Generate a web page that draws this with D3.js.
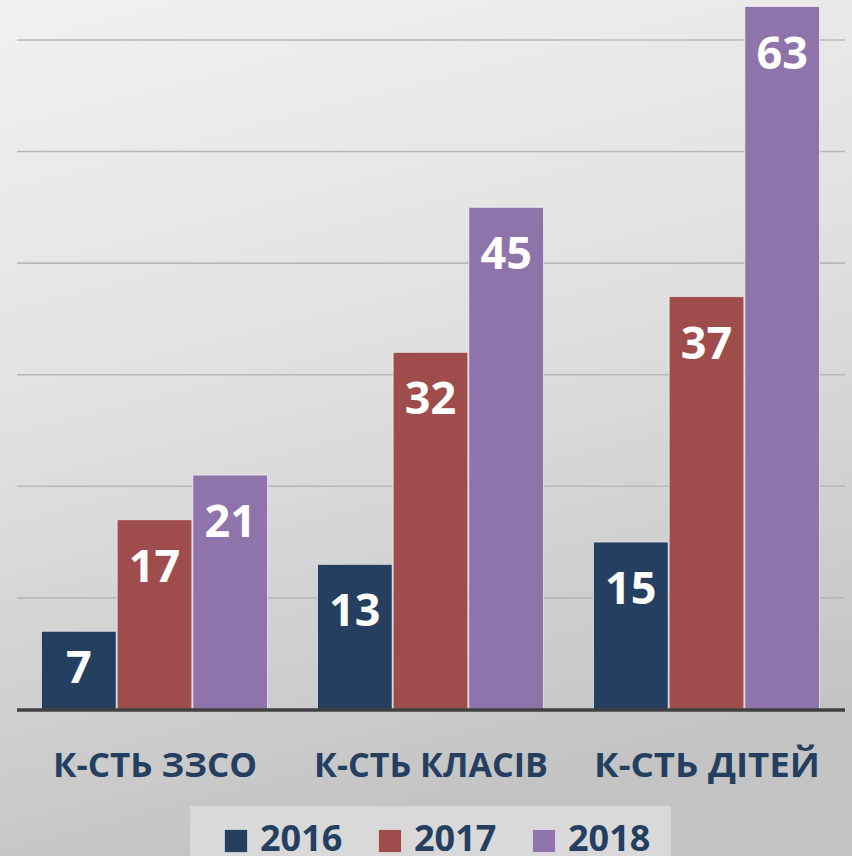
<!DOCTYPE html>
<html>
<head>
<meta charset="utf-8">
<script src="https://cdn.jsdelivr.net/npm/d3@7"></script>
<style>
  body { margin: 0; overflow: hidden; }
  svg { display: block; font-family: "Open Sans", sans-serif; }
</style>
</head>
<body>
<script>
let w = 852;
let h = 856;

// data
let categories = ["К-СТЬ ЗЗСО", "К-СТЬ КЛАСІВ", "К-СТЬ ДІТЕЙ"];
let seriesNames = ["2016", "2017", "2018"];
let values2016 = [7, 13, 15];
let values2017 = [17, 32, 37];
let values2018 = [21, 45, 63];
let gridTicks = [10, 20, 30, 40, 50, 60];
let colors = ["#253f60", "#9f4c4c", "#8e74ab"];

let series = [values2016, values2017, values2018];

let svg = d3.select("body")
    .append("svg")
    .attr("width", w)
    .attr("height", h);

let defs = svg.append("defs");
let grad = defs.append("linearGradient")
    .attr("id", "bg")
    .attr("x1", "0").attr("y1", "0")
    .attr("x2", "0.25").attr("y2", "1");
grad.append("stop").attr("offset", "0%").attr("stop-color", "#f1f1f1");
grad.append("stop").attr("offset", "45%").attr("stop-color", "#e2e2e2");
grad.append("stop").attr("offset", "100%").attr("stop-color", "#c4c4c4");

svg.append("rect")
    .attr("width", w)
    .attr("height", h)
    .attr("fill", "url(#bg)");

// scales
let x0 = d3.scaleBand()
    .domain(categories)
    .range([17, 845])
    .paddingInner(0)
    .paddingOuter(0);

let x1 = d3.scaleBand()
    .domain(seriesNames)
    .range([24, x0.bandwidth() - 25])
    .padding(0);

let y = d3.scaleLinear()
    .domain([0, 70])
    .range([709.4, 709.4 - 70 * 11.157]);

// gridlines
svg.append("g")
    .selectAll("line")
    .data(gridTicks)
    .enter()
    .append("line")
    .attr("x1", 17)
    .attr("x2", 845)
    .attr("y1", d => y(d))
    .attr("y2", d => y(d))
    .attr("stroke", "#b8b8b8")
    .attr("stroke-width", 1.6);

// bars
let groups = svg.append("g")
    .selectAll("g")
    .data(categories)
    .enter()
    .append("g")
    .attr("transform", d => `translate(${x0(d)},0)`);

let cells = (c, ci) => seriesNames.map((s, si) => ({s: s, si: si, v: series[si][ci]}));

groups.selectAll("rect")
    .data(cells)
    .enter()
    .append("rect")
    .attr("x", d => x1(d.s) + 0.5)
    .attr("y", d => y(d.v))
    .attr("width", x1.bandwidth() - 1)
    .attr("height", d => y(0) - y(d.v))
    .attr("fill", d => colors[d.si])
    .attr("stroke", "rgba(255,255,255,0.6)")
    .attr("stroke-width", 1);

// value labels, inside end (short bars keep the label inside)
groups.selectAll("text")
    .data(cells)
    .enter()
    .append("text")
    .attr("x", d => x1(d.s) + x1.bandwidth() / 2)
    .attr("y", d => Math.min(y(d.v) + 62, y(0) - 26))
    .attr("text-anchor", "middle")
    .attr("fill", "#ffffff")
    .attr("font-weight", 700)
    .attr("font-size", 45)
    .text(d => d.v);

// baseline
svg.append("line")
    .attr("x1", 17)
    .attr("x2", 845)
    .attr("y1", y(0) + 0.5)
    .attr("y2", y(0) + 0.5)
    .attr("stroke", "#404040")
    .attr("stroke-width", 3.5);

// category labels
svg.append("g")
    .selectAll("text")
    .data(categories)
    .enter()
    .append("text")
    .attr("x", d => x0(d) + x0.bandwidth() / 2)
    .attr("y", 777)
    .attr("text-anchor", "middle")
    .attr("fill", "#243f60")
    .attr("font-weight", 700)
    .attr("font-size", 34)
    .attr("textLength", (d, i) => [204, 234, 226][i])
    .attr("lengthAdjust", "spacingAndGlyphs")
    .text(d => d);

// legend
svg.append("rect")
    .attr("x", 190)
    .attr("y", 806)
    .attr("width", 481)
    .attr("height", 60)
    .attr("fill", "#d9d9d9");

let legendX = [224, 378, 532];
let legend = svg.append("g")
    .selectAll("g")
    .data(seriesNames)
    .enter()
    .append("g")
    .attr("transform", (d, i) => `translate(${legendX[i]},0)`);

legend.append("rect")
    .attr("x", 0.5)
    .attr("y", 829.5)
    .attr("width", 23)
    .attr("height", 23)
    .attr("fill", (d, i) => colors[i])
    .attr("stroke", "rgba(255,255,255,0.5)");

legend.append("text")
    .attr("x", 36)
    .attr("y", 851)
    .attr("fill", "#243f60")
    .attr("font-weight", 700)
    .attr("font-size", 36)
    .text(d => d);
</script>
</body>
</html>
